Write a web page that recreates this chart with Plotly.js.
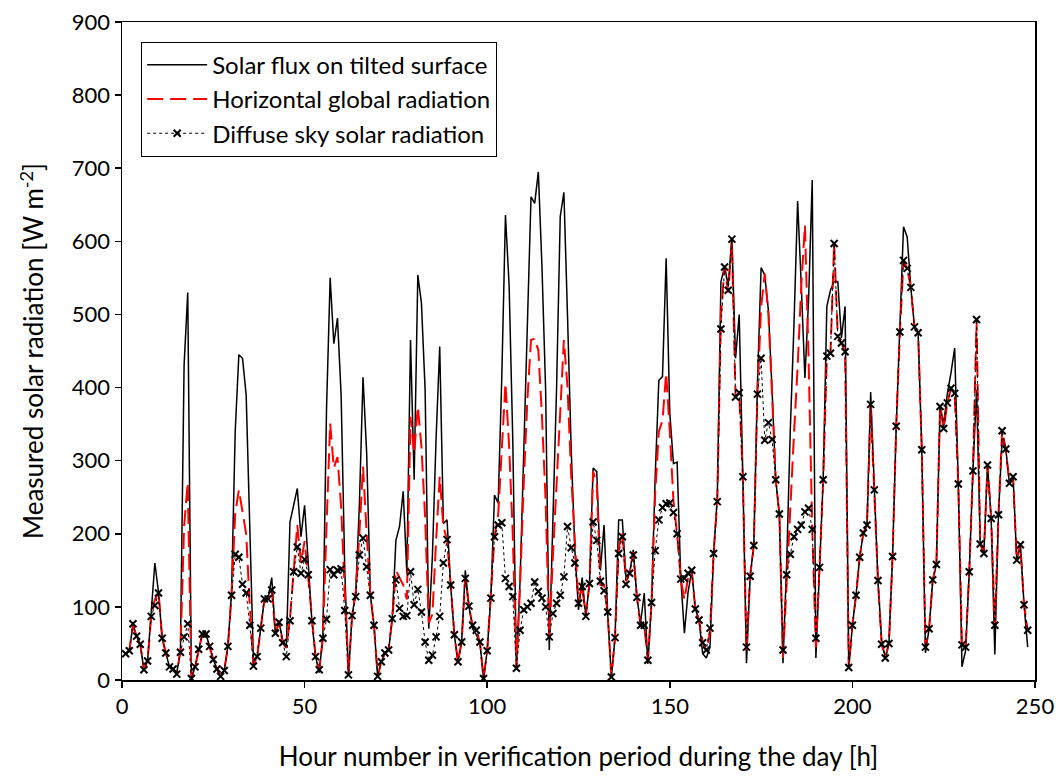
<!DOCTYPE html>
<html>
<head>
<meta charset="utf-8">
<script src="https://cdn.plot.ly/plotly-3.0.1.min.js"></script>
<style>html,body{margin:0;padding:0;background:#fff;}#chart{width:1062px;height:779px;}</style>
</head>
<body>
<div id="chart"></div>
<script>
// Hour index (1..248)
const hours = [];
for (let h = 1; h <= 248; h++) hours.push(h);

// Solar flux on tilted surface [W m-2], hours 1..248
const tilted = [
 36,40,75,60,49,14,26,90,160,120, 57,37,18,15,10,40,430,530,2,18,
 42,63,63,46,28,15,5,13,46,120, 340,445,440,390,200,25,32,68,111,112,
 140,64,79,55,45,216,240,262,196,239, 160,80,32,10,60,370,550,460,495,390,
 150,7,88,120,240,414,310,118,75,5, 25,37,41,84,191,210,258,146,465,274,
 554,515,397,70,170,330,456,214,219,130, 62,25,52,150,101,70,62,52,2,40,
 112,253,242,415,636,540,330,16,135,315, 500,661,652,695,565,397,41,220,400,634,
 667,497,315,178,96,140,87,132,290,285, 150,212,90,4,58,219,219,141,146,178,
 113,78,119,22,106,278,410,415,577,365, 296,298,140,64,120,150,97,82,36,30,
 45,173,250,545,565,540,605,440,500,278, 23,142,184,406,564,554,506,397,274,227,
 23,160,343,486,655,540,413,520,684,30, 154,274,511,533,545,545,468,511,15,75,
 116,168,201,212,394,260,136,55,30,50, 169,347,490,620,606,537,483,475,315,37,
 70,137,158,374,351,392,420,454,268,18, 40,148,286,397,186,173,294,221,35,226,
 330,316,269,278,164,185,103,45
];

// Horizontal global radiation [W m-2], hours 1..248
const globalRad = [
 36,40,75,60,49,14,26,87,110,120, 57,37,18,15,8,40,210,270,2,18,
 42,63,63,46,28,15,5,13,46,116, 228,260,230,200,100,19,32,71,111,111,
 125,64,79,51,44,85,150,212,160,190, 140,80,32,14,57,210,351,290,305,237,
 120,7,88,120,200,292,200,116,75,5, 25,37,41,84,150,140,130,110,360,310,
 374,319,223,78,90,190,278,210,192,130, 62,25,52,140,101,75,68,52,2,40,
 112,196,226,319,406,320,200,16,130,269, 383,465,467,451,360,246,59,170,274,380,
 465,400,280,190,105,128,87,132,285,269, 130,130,90,4,58,180,203,135,146,175,
 113,75,75,27,106,255,340,355,420,340, 245,200,138,110,140,150,97,82,51,40,
 65,173,245,500,565,530,600,387,393,278, 40,142,184,391,510,556,500,390,274,227,
 30,133,244,336,428,539,622,440,207,45, 154,274,443,447,597,470,461,449,17,75,
 116,168,201,212,377,260,136,49,30,50, 169,347,476,574,563,537,483,475,315,45,
 70,137,158,374,344,379,399,392,268,48, 45,148,286,493,186,173,294,221,75,226,
 341,316,269,278,164,185,103,68
];

// Diffuse sky solar radiation [W m-2], hours 1..248
const diffuse = [
 36,40,77,60,49,14,26,87,102,119, 57,37,18,15,8,38,59,77,2,18,
 42,63,63,46,28,15,5,13,46,116, 172,168,131,119,75,19,32,71,111,111,
 123,64,79,51,32,81,148,182,146,165, 144,81,32,14,57,83,151,144,150,152,
 95,7,88,114,171,194,155,116,75,5, 25,37,41,84,137,98,87,88,148,103,
 124,93,52,27,34,59,87,160,192,130, 62,25,52,139,101,75,68,52,2,40,
 112,196,212,215,139,128,114,16,68,96, 100,105,134,121,112,100,59,91,105,116,
 141,210,181,160,105,128,87,132,216,191, 135,122,93,4,58,173,196,131,146,171,
 113,75,75,27,106,177,219,236,241,242, 229,200,138,139,146,150,97,82,51,41,
 71,173,244,480,565,533,603,387,393,278, 45,142,184,391,440,328,352,329,274,227,
 41,144,172,196,206,212,230,235,206,57, 154,274,443,447,597,470,461,449,17,75,
 116,168,201,212,377,260,136,49,30,50, 169,347,476,574,563,537,483,475,315,45,
 70,137,158,374,344,379,399,392,268,48, 45,148,286,493,186,173,294,221,75,226,
 341,316,269,278,164,185,103,68
];

const seriesNames = ["Solar flux on tilted surface", "Horizontal global radiation", "Diffuse sky solar radiation"];

const FONT = "Lato, 'Open Sans', sans-serif";

const traces = [
  {
    x: hours, y: tilted, name: seriesNames[0], type: "scatter", mode: "lines",
    line: {color: "#000000", width: 1.5}
  },
  {
    x: hours, y: globalRad, name: seriesNames[1], type: "scatter", mode: "lines",
    line: {color: "#ff0000", width: 2, dash: "16px,7px"}
  },
  {
    x: hours, y: diffuse, name: seriesNames[2], type: "scatter", mode: "lines+markers",
    line: {color: "#000000", width: 1, dash: "dot"},
    marker: {symbol: "x-thin", size: 7, color: "#000000", line: {color: "#000000", width: 2}}
  }
];

const layout = {
  width: 1062, height: 779,
  margin: {l: 122, r: 27, t: 22, b: 99},
  paper_bgcolor: "#ffffff", plot_bgcolor: "#ffffff",
  font: {family: FONT, size: 22, color: "#000000"},
  showlegend: true,
  legend: {
    x: 0.021, y: 0.97, xanchor: "left", yanchor: "top",
    bgcolor: "#ffffff", bordercolor: "#000000", borderwidth: 1,
    font: {family: FONT, size: 24, color: "#000000"},
    tracegroupgap: 0, itemwidth: 60
  },
  xaxis: {
    range: [0, 250], tickvals: [0, 50, 100, 150, 200, 250],
    showgrid: false, zeroline: false,
    showline: true, linecolor: "#000000", linewidth: 1.5, mirror: true,
    ticks: "outside", ticklen: 6, tickwidth: 1.5, tickcolor: "#000000",
    tickfont: {family: FONT, size: 22, color: "#000000"},
    title: {text: "Hour number in verification period during the day [h]", font: {family: FONT, size: 26, color: "#000000"}, standoff: 30}
  },
  yaxis: {
    range: [0, 900], tickvals: [0, 100, 200, 300, 400, 500, 600, 700, 800, 900],
    showgrid: false, zeroline: false,
    showline: true, linecolor: "#000000", linewidth: 1.5, mirror: true,
    ticks: "outside", ticklen: 6, tickwidth: 1.5, tickcolor: "#000000",
    tickfont: {family: FONT, size: 22, color: "#000000"},
    title: {text: "Measured solar radiation [W m<sup>-2</sup>]", font: {family: FONT, size: 26, color: "#000000"}, standoff: 20}
  }
};

Plotly.newPlot("chart", traces, layout, {displayModeBar: false, staticPlot: true});
</script>
</body>
</html>
